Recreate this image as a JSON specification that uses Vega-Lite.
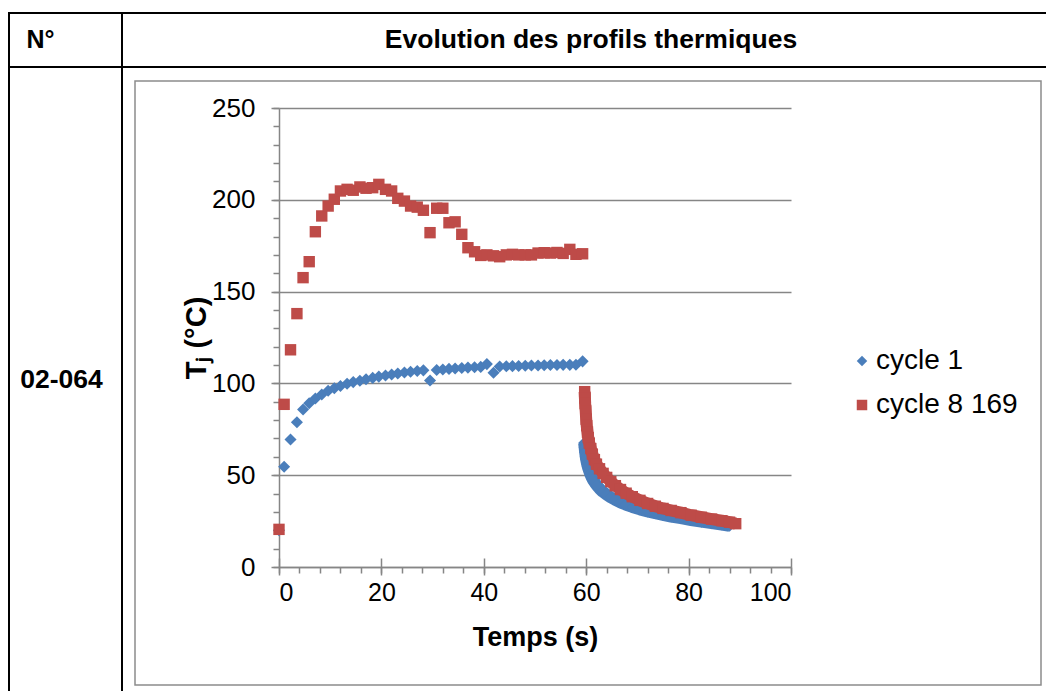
{
  "$schema": "https://vega.github.io/schema/vega-lite/v6.json",
  "background": "white",
  "padding": {"left": 8, "top": 12, "right": 0, "bottom": 0},
  "bounds": "full",
  "align": "none",
  "spacing": -2,
  "columns": 2,
  "config": {
    "view": {"stroke": "black", "strokeWidth": 2},
    "font": "Liberation Sans",
    "axis": {"labelFont": "Liberation Sans", "titleFont": "Liberation Sans", "labelColor": "black", "titleColor": "black", "domainColor": "#868686", "tickColor": "#868686", "gridColor": "#868686", "domainWidth": 1.5, "tickWidth": 1.5, "gridWidth": 1.5}
  },
  "datasets": {
    "blue": [
      {"t":0,"T":20,"s":"cycle 1","p":"h"},{"t":1.0,"T":54.6,"s":"cycle 1","p":"h"},{"t":2.25,"T":69.5,"s":"cycle 1","p":"h"},{"t":3.5,"T":78.8,"s":"cycle 1","p":"h"},{"t":4.7,"T":85.8,"s":"cycle 1","p":"h"},{"t":5.9,"T":89.2,"s":"cycle 1","p":"h"},{"t":7.1,"T":91.8,"s":"cycle 1","p":"h"},{"t":8.35,"T":94.0,"s":"cycle 1","p":"h"},{"t":9.6,"T":96.0,"s":"cycle 1","p":"h"},{"t":10.8,"T":97.4,"s":"cycle 1","p":"h"},{"t":12.0,"T":98.6,"s":"cycle 1","p":"h"},{"t":13.3,"T":99.8,"s":"cycle 1","p":"h"},{"t":14.5,"T":100.7,"s":"cycle 1","p":"h"},{"t":15.8,"T":101.5,"s":"cycle 1","p":"h"},{"t":17.0,"T":102.3,"s":"cycle 1","p":"h"},{"t":18.3,"T":103.0,"s":"cycle 1","p":"h"},{"t":19.5,"T":103.7,"s":"cycle 1","p":"h"},{"t":20.8,"T":104.3,"s":"cycle 1","p":"h"},{"t":22.0,"T":104.9,"s":"cycle 1","p":"h"},{"t":23.2,"T":105.4,"s":"cycle 1","p":"h"},{"t":24.5,"T":105.9,"s":"cycle 1","p":"h"},{"t":25.7,"T":106.3,"s":"cycle 1","p":"h"},{"t":27.0,"T":106.7,"s":"cycle 1","p":"h"},{"t":28.2,"T":107.1,"s":"cycle 1","p":"h"},{"t":29.5,"T":101.6,"s":"cycle 1","p":"h"},{"t":30.8,"T":107.3,"s":"cycle 1","p":"h"},{"t":32.0,"T":107.6,"s":"cycle 1","p":"h"},{"t":33.2,"T":107.9,"s":"cycle 1","p":"h"},{"t":34.4,"T":108.1,"s":"cycle 1","p":"h"},{"t":35.7,"T":108.4,"s":"cycle 1","p":"h"},{"t":36.9,"T":108.6,"s":"cycle 1","p":"h"},{"t":38.2,"T":108.8,"s":"cycle 1","p":"h"},{"t":39.4,"T":109.0,"s":"cycle 1","p":"h"},{"t":40.6,"T":110.5,"s":"cycle 1","p":"h"},{"t":41.9,"T":105.8,"s":"cycle 1","p":"h"},{"t":43.1,"T":109.2,"s":"cycle 1","p":"h"},{"t":44.4,"T":109.3,"s":"cycle 1","p":"h"},{"t":45.6,"T":109.4,"s":"cycle 1","p":"h"},{"t":46.8,"T":109.5,"s":"cycle 1","p":"h"},{"t":48.1,"T":109.6,"s":"cycle 1","p":"h"},{"t":49.3,"T":109.7,"s":"cycle 1","p":"h"},{"t":50.6,"T":109.8,"s":"cycle 1","p":"h"},{"t":51.8,"T":109.9,"s":"cycle 1","p":"h"},{"t":53.0,"T":110.0,"s":"cycle 1","p":"h"},{"t":54.3,"T":110.0,"s":"cycle 1","p":"h"},{"t":55.5,"T":110.1,"s":"cycle 1","p":"h"},{"t":56.8,"T":110.1,"s":"cycle 1","p":"h"},{"t":58.0,"T":110.2,"s":"cycle 1","p":"h"},{"t":59.3,"T":112.0,"s":"cycle 1","p":"h"},
      {"t":59.6,"T":67.5,"s":"cycle 1","p":"c"},{"t":59.7,"T":65,"s":"cycle 1","p":"c"},{"t":59.8,"T":62.5,"s":"cycle 1","p":"c"},{"t":59.9,"T":60.3,"s":"cycle 1","p":"c"},{"t":60.0,"T":58.5,"s":"cycle 1","p":"c"},{"t":60.15,"T":56.5,"s":"cycle 1","p":"c"},{"t":60.3,"T":54.8,"s":"cycle 1","p":"c"},{"t":60.5,"T":53,"s":"cycle 1","p":"c"},{"t":60.75,"T":51,"s":"cycle 1","p":"c"},{"t":61.0,"T":49.3,"s":"cycle 1","p":"c"},{"t":61.3,"T":47.6,"s":"cycle 1","p":"c"},{"t":61.7,"T":45.9,"s":"cycle 1","p":"c"},{"t":62.1,"T":44.3,"s":"cycle 1","p":"c"},{"t":62.6,"T":42.7,"s":"cycle 1","p":"c"},{"t":63.2,"T":41.1,"s":"cycle 1","p":"c"},{"t":63.9,"T":39.6,"s":"cycle 1","p":"c"},{"t":64.7,"T":38.1,"s":"cycle 1","p":"c"},{"t":65.6,"T":36.7,"s":"cycle 1","p":"c"},{"t":66.6,"T":35.3,"s":"cycle 1","p":"c"},{"t":67.7,"T":34.0,"s":"cycle 1","p":"c"},{"t":69.0,"T":32.7,"s":"cycle 1","p":"c"},{"t":70.5,"T":31.4,"s":"cycle 1","p":"c"},{"t":72.0,"T":30.3,"s":"cycle 1","p":"c"},{"t":73.5,"T":29.3,"s":"cycle 1","p":"c"},{"t":75.0,"T":28.4,"s":"cycle 1","p":"c"},{"t":76.6,"T":27.5,"s":"cycle 1","p":"c"},{"t":78.5,"T":26.6,"s":"cycle 1","p":"c"},{"t":80.5,"T":25.6,"s":"cycle 1","p":"c"},{"t":82.5,"T":24.7,"s":"cycle 1","p":"c"},{"t":84.5,"T":23.9,"s":"cycle 1","p":"c"},{"t":86.5,"T":23.1,"s":"cycle 1","p":"c"},{"t":88.0,"T":22.5,"s":"cycle 1","p":"c"}
    ],
    "red": [
      {"t":0,"T":20.5,"s":"cycle 8 169","p":"h"},{"t":1.0,"T":88.6,"s":"cycle 8 169","p":"h"},{"t":2.25,"T":118.3,"s":"cycle 8 169","p":"h"},{"t":3.5,"T":138,"s":"cycle 8 169","p":"h"},{"t":4.7,"T":157.6,"s":"cycle 8 169","p":"h"},{"t":5.9,"T":166.3,"s":"cycle 8 169","p":"h"},{"t":7.1,"T":182.6,"s":"cycle 8 169","p":"h"},{"t":8.35,"T":191.2,"s":"cycle 8 169","p":"h"},{"t":9.6,"T":196.6,"s":"cycle 8 169","p":"h"},{"t":10.8,"T":200.3,"s":"cycle 8 169","p":"h"},{"t":12.0,"T":204.8,"s":"cycle 8 169","p":"h"},{"t":13.3,"T":205.7,"s":"cycle 8 169","p":"h"},{"t":14.5,"T":205.2,"s":"cycle 8 169","p":"h"},{"t":15.8,"T":207,"s":"cycle 8 169","p":"h"},{"t":17.0,"T":206.3,"s":"cycle 8 169","p":"h"},{"t":18.3,"T":206.6,"s":"cycle 8 169","p":"h"},{"t":19.5,"T":208.4,"s":"cycle 8 169","p":"h"},{"t":20.8,"T":205.7,"s":"cycle 8 169","p":"h"},{"t":22.0,"T":204.8,"s":"cycle 8 169","p":"h"},{"t":23.2,"T":200.8,"s":"cycle 8 169","p":"h"},{"t":24.5,"T":199.3,"s":"cycle 8 169","p":"h"},{"t":25.7,"T":196.6,"s":"cycle 8 169","p":"h"},{"t":27.0,"T":196,"s":"cycle 8 169","p":"h"},{"t":28.2,"T":194.3,"s":"cycle 8 169","p":"h"},{"t":29.5,"T":182.1,"s":"cycle 8 169","p":"h"},{"t":30.8,"T":195.4,"s":"cycle 8 169","p":"h"},{"t":32.0,"T":195.4,"s":"cycle 8 169","p":"h"},{"t":33.2,"T":187.5,"s":"cycle 8 169","p":"h"},{"t":34.4,"T":188,"s":"cycle 8 169","p":"h"},{"t":35.7,"T":181.2,"s":"cycle 8 169","p":"h"},{"t":36.9,"T":173.9,"s":"cycle 8 169","p":"h"},{"t":38.2,"T":171.7,"s":"cycle 8 169","p":"h"},{"t":39.4,"T":169.7,"s":"cycle 8 169","p":"h"},{"t":40.6,"T":170,"s":"cycle 8 169","p":"h"},{"t":41.9,"T":169.5,"s":"cycle 8 169","p":"h"},{"t":43.1,"T":169,"s":"cycle 8 169","p":"h"},{"t":44.4,"T":170,"s":"cycle 8 169","p":"h"},{"t":45.6,"T":170.3,"s":"cycle 8 169","p":"h"},{"t":46.8,"T":170,"s":"cycle 8 169","p":"h"},{"t":48.1,"T":170,"s":"cycle 8 169","p":"h"},{"t":49.3,"T":170,"s":"cycle 8 169","p":"h"},{"t":50.6,"T":171,"s":"cycle 8 169","p":"h"},{"t":51.8,"T":171.2,"s":"cycle 8 169","p":"h"},{"t":53.0,"T":171,"s":"cycle 8 169","p":"h"},{"t":54.3,"T":171.3,"s":"cycle 8 169","p":"h"},{"t":55.5,"T":170.8,"s":"cycle 8 169","p":"h"},{"t":56.8,"T":173,"s":"cycle 8 169","p":"h"},{"t":58.0,"T":170.3,"s":"cycle 8 169","p":"h"},{"t":59.3,"T":170.6,"s":"cycle 8 169","p":"h"},
      {"t":59.7,"T":95.5,"s":"cycle 8 169","p":"c"},{"t":59.75,"T":92,"s":"cycle 8 169","p":"c"},{"t":59.8,"T":89,"s":"cycle 8 169","p":"c"},{"t":59.9,"T":85,"s":"cycle 8 169","p":"c"},{"t":60.0,"T":80.5,"s":"cycle 8 169","p":"c"},{"t":60.1,"T":77,"s":"cycle 8 169","p":"c"},{"t":60.25,"T":73.5,"s":"cycle 8 169","p":"c"},{"t":60.4,"T":70.5,"s":"cycle 8 169","p":"c"},{"t":60.6,"T":67.5,"s":"cycle 8 169","p":"c"},{"t":60.9,"T":64.5,"s":"cycle 8 169","p":"c"},{"t":61.2,"T":61.5,"s":"cycle 8 169","p":"c"},{"t":61.6,"T":58.5,"s":"cycle 8 169","p":"c"},{"t":62.0,"T":56,"s":"cycle 8 169","p":"c"},{"t":62.6,"T":53.5,"s":"cycle 8 169","p":"c"},{"t":63.3,"T":51,"s":"cycle 8 169","p":"c"},{"t":64.0,"T":48.8,"s":"cycle 8 169","p":"c"},{"t":64.8,"T":46.5,"s":"cycle 8 169","p":"c"},{"t":65.7,"T":44.3,"s":"cycle 8 169","p":"c"},{"t":66.7,"T":42.2,"s":"cycle 8 169","p":"c"},{"t":67.8,"T":40.2,"s":"cycle 8 169","p":"c"},{"t":69.0,"T":38.3,"s":"cycle 8 169","p":"c"},{"t":70.5,"T":36.3,"s":"cycle 8 169","p":"c"},{"t":72.0,"T":34.6,"s":"cycle 8 169","p":"c"},{"t":73.5,"T":33.1,"s":"cycle 8 169","p":"c"},{"t":75.0,"T":31.9,"s":"cycle 8 169","p":"c"},{"t":76.6,"T":30.8,"s":"cycle 8 169","p":"c"},{"t":78.5,"T":29.6,"s":"cycle 8 169","p":"c"},{"t":80.5,"T":28.2,"s":"cycle 8 169","p":"c"},{"t":82.5,"T":27.1,"s":"cycle 8 169","p":"c"},{"t":84.5,"T":26.1,"s":"cycle 8 169","p":"c"},{"t":86.5,"T":25.2,"s":"cycle 8 169","p":"c"},{"t":88.0,"T":24.4,"s":"cycle 8 169","p":"c"},{"t":89.2,"T":23.6,"s":"cycle 8 169","p":"c"}
    ]
  },
  "concat": [
    {
      "width": 113, "height": 54,
      "view": {"stroke": "black", "strokeWidth": 2},
      "data": {"values": [{"label": "N°"}]},
      "mark": {"type": "text", "align": "left", "baseline": "middle", "dx": -39, "font": "Liberation Sans", "fontSize": 25, "fontWeight": "bold", "color": "black"},
      "encoding": {"text": {"field": "label"}}
    },
    {
      "width": 930, "height": 54,
      "view": {"stroke": "black", "strokeWidth": 2},
      "data": {"values": [{"label": "Evolution des profils thermiques"}]},
      "mark": {"type": "text", "align": "center", "baseline": "middle", "dx": 4, "font": "Liberation Sans", "fontSize": 26.5, "fontWeight": "bold", "color": "black"},
      "encoding": {"text": {"field": "label"}}
    },
    {
      "width": 113, "height": 630,
      "view": {"stroke": "black", "strokeWidth": 2},
      "data": {"values": [{"label": "02-064"}]},
      "mark": {"type": "text", "align": "center", "baseline": "middle", "dx": -4, "dy": -2, "font": "Liberation Sans", "fontSize": 26.5, "fontWeight": "bold", "color": "black"},
      "encoding": {"text": {"field": "label"}}
    },
    {
      "width": 906, "height": 604,
      "view": {"stroke": "#8c8c8c", "strokeWidth": 1.5},
      "resolve": {"axis": {"x": "independent", "y": "independent"}},
      "layer": [
        {
          "data": {"name": "blue"},
          "transform": [{"filter": "datum.p === 'c'"}],
          "mark": {"type": "line", "color": "#4a7ebb", "strokeWidth": 12, "strokeCap": "butt", "strokeJoin": "round"},
          "encoding": {
            "x": {"field": "t", "type": "quantitative", "scale": {"domain": [0, 100], "range": [144, 656], "nice": false, "zero": false},
                  "axis": {"orient": "bottom", "offset": -118, "values": [0,4,8,12,16,20,24,28,32,36,40,44,48,52,56,60,64,68,72,76,80,84,88,92,96,100], "tickSize": 6, "labels": false, "domain": false, "grid": false, "title": null}},
            "y": {"field": "T", "type": "quantitative", "scale": {"domain": [0, 250], "range": [486, 27], "nice": false, "zero": false},
                  "axis": {"orient": "left", "offset": -144, "values": [0,10,20,30,40,50,60,70,80,90,100,110,120,130,140,150,160,170,180,190,200,210,220,230,240,250], "tickSize": 6, "labels": false, "domain": false, "grid": false, "title": null}}
          }
        },
        {
          "data": {"name": "blue"},
          "mark": {"type": "point", "filled": true, "opacity": 1, "size": 145},
          "encoding": {
            "x": {"field": "t", "type": "quantitative", "scale": {"domain": [0, 100], "range": [144, 656], "nice": false, "zero": false},
                  "axis": {"orient": "bottom", "offset": -118, "values": [0,20,40,60,80,100], "tickSize": 8, "labelFontSize": 25, "labelPadding": 5, "grid": false, "title": "Temps (s)", "titleFontSize": 27, "titleFontWeight": "bold", "titlePadding": 19}},
            "y": {"field": "T", "type": "quantitative", "scale": {"domain": [0, 250], "range": [486, 27], "nice": false, "zero": false},
                  "axis": {"orient": "left", "offset": -144, "values": [0,50,100,150,200,250], "tickSize": 8, "labelFontSize": 26, "labelPadding": 16, "grid": true, "title": "Tⱼ (°C)", "titleFontSize": 29, "titleFontWeight": "bold", "titlePadding": 0}},
            "color": {"field": "s", "type": "nominal", "scale": {"domain": ["cycle 1", "cycle 8 169"], "range": ["#4a7ebb", "#be4b48"]},
                      "legend": {"orient": "none", "legendX": 839, "legendY": 334, "title": null, "labelFontSize": 28, "labelFont": "Liberation Sans", "labelColor": "black", "symbolSize": 110, "rowPadding": 16, "labelOffset": 0, "padding": 0}},
            "shape": {"field": "s", "type": "nominal", "scale": {"domain": ["cycle 1", "cycle 8 169"], "range": ["diamond", "square"]},
                      "legend": {"orient": "none", "legendX": 839, "legendY": 334, "title": null, "labelFontSize": 28, "labelFont": "Liberation Sans", "labelColor": "black", "symbolSize": 110, "rowPadding": 16, "labelOffset": 0, "padding": 0}}
          }
        },
        {
          "data": {"name": "red"},
          "transform": [{"filter": "datum.p === 'c'"}],
          "mark": {"type": "line", "color": "#be4b48", "strokeWidth": 12, "strokeCap": "butt", "strokeJoin": "round"},
          "encoding": {
            "x": {"field": "t", "type": "quantitative", "scale": {"domain": [0, 100], "range": [144, 656], "nice": false, "zero": false},
                  "axis": {"orient": "top", "offset": -486, "values": [0,20,40,60,80,100], "tickSize": 9, "labels": false, "domain": false, "grid": false, "title": null}},
            "y": {"field": "T", "type": "quantitative", "scale": {"domain": [0, 250], "range": [486, 27], "nice": false, "zero": false}, "axis": null}
          }
        },
        {
          "data": {"name": "red"},
          "mark": {"type": "point", "filled": true, "opacity": 1, "size": 130},
          "encoding": {
            "x": {"field": "t", "type": "quantitative", "scale": {"domain": [0, 100], "range": [144, 656], "nice": false, "zero": false},
                  "axis": {"orient": "top", "values": [50], "tickSize": 14, "tickWidth": 1, "tickOpacity": 0, "labels": false, "domain": false, "grid": false, "title": null}},
            "y": {"field": "T", "type": "quantitative", "scale": {"domain": [0, 250], "range": [486, 27], "nice": false, "zero": false},
                  "axis": {"orient": "left", "values": [100], "tickSize": 13, "tickWidth": 1, "tickOpacity": 0, "labels": false, "domain": false, "grid": false, "title": null}},
            "color": {"field": "s", "type": "nominal", "scale": {"domain": ["cycle 1", "cycle 8 169"], "range": ["#4a7ebb", "#be4b48"]},
                      "legend": {"orient": "none", "legendX": 839, "legendY": 334, "title": null, "labelFontSize": 28, "labelFont": "Liberation Sans", "labelColor": "black", "symbolSize": 110, "rowPadding": 16, "labelOffset": 0, "padding": 0}},
            "shape": {"field": "s", "type": "nominal", "scale": {"domain": ["cycle 1", "cycle 8 169"], "range": ["diamond", "square"]},
                      "legend": {"orient": "none", "legendX": 839, "legendY": 334, "title": null, "labelFontSize": 28, "labelFont": "Liberation Sans", "labelColor": "black", "symbolSize": 110, "rowPadding": 16, "labelOffset": 0, "padding": 0}}
          }
        }
      ]
    }
  ]
}
